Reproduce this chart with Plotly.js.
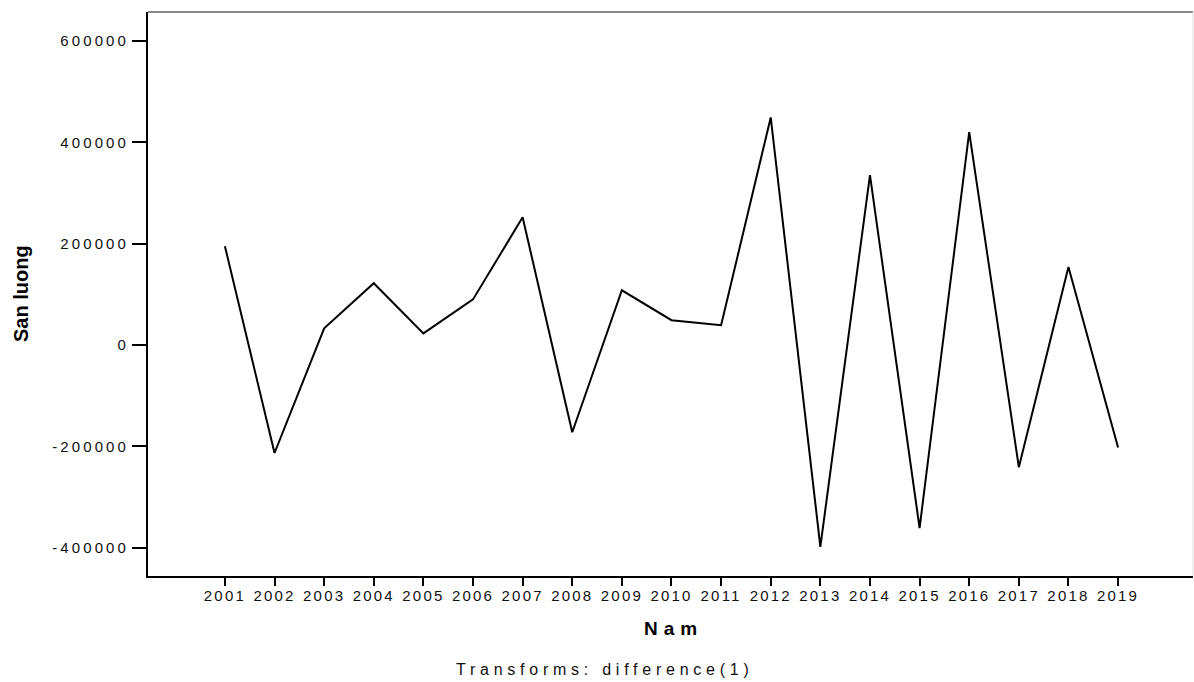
<!DOCTYPE html>
<html><head><meta charset="utf-8">
<script src="https://cdn.plot.ly/plotly-3.0.1.min.js"></script>
<style>
html,body{margin:0;padding:0;background:#fff}
#chart{width:1194px;height:682px}
.xtick text{letter-spacing:2.2px}
.ytick text{letter-spacing:3.1px}
</style>
</head><body><div id="chart"></div>
<script>
const years = [2001,2002,2003,2004,2005,2006,2007,2008,2009,2010,2011,2012,2013,2014,2015,2016,2017,2018,2019];
const sanLuong = [195000,-213000,33000,122000,23000,90000,252000,-172000,108000,49000,39000,449000,-398000,335000,-361000,420000,-241000,154000,-202000];
const yTicks = [-400000,-200000,0,200000,400000,600000];
const xTitle = 'Nam';
const yTitle = 'San luong';
const note = 'Transforms: difference(1)';

Plotly.newPlot('chart', [{
  x: years, y: sanLuong, type: 'scatter', mode: 'lines',
  line: {color: '#000', width: 2}, hoverinfo: 'x+y'
}], {
  width: 1194, height: 682,
  margin: {l: 148, r: 1, t: 12, b: 106},
  paper_bgcolor: '#fff', plot_bgcolor: '#fff',
  showlegend: false,
  font: {family: 'Liberation Sans, Arial, sans-serif', color: '#000', size: 15},
  xaxis: {
    range: [1999.45, 2020.51], tickvals: years, ticktext: years.map(String),
    showgrid: false, zeroline: false, showline: true, linecolor: '#000', linewidth: 2,
    ticks: 'outside', ticklen: 8, tickwidth: 2, tickcolor: '#000',
    tickfont: {size: 15, color: '#111'}, tickangle: 0, ticklabelstandoff: -3
  },
  yaxis: {
    range: [-455650, 657000], tickvals: yTicks, ticktext: yTicks.map(String),
    showgrid: false, zeroline: false, showline: true, linecolor: '#000', linewidth: 2,
    ticks: 'outside', ticklen: 14, tickwidth: 2, tickcolor: '#000',
    tickfont: {size: 15, color: '#111'}
  },
  shapes: [
    {type: 'line', xref: 'paper', yref: 'paper', x0: 0, x1: 1, y0: 1, y1: 1, line: {color: '#888', width: 2}},
    {type: 'line', xref: 'paper', yref: 'paper', x0: 1, x1: 1, y0: 0, y1: 1, line: {color: '#ddd', width: 1}}
  ],
  annotations: [
    {text: '<b><span style="letter-spacing:6px">' + xTitle + '</span></b>', xref: 'paper', yref: 'paper',
     x: 0.503, y: -0.0922, xanchor: 'center', yanchor: 'middle', showarrow: false,
     font: {size: 19, color: '#000'}},
    {text: '<b>' + yTitle + '</b>', xref: 'paper', yref: 'paper', textangle: -90,
     x: -0.1215, y: 0.5, xanchor: 'center', yanchor: 'middle', showarrow: false,
     font: {size: 20, color: '#000'}},
    {text: '<span style="letter-spacing:4.75px">' + note + '</span>', xref: 'paper', yref: 'paper',
     x: 0.437, y: -0.147, xanchor: 'center', yanchor: 'top', showarrow: false,
     font: {size: 16, color: '#111'}}
  ]
}, {displayModeBar: false});
</script></body></html>
